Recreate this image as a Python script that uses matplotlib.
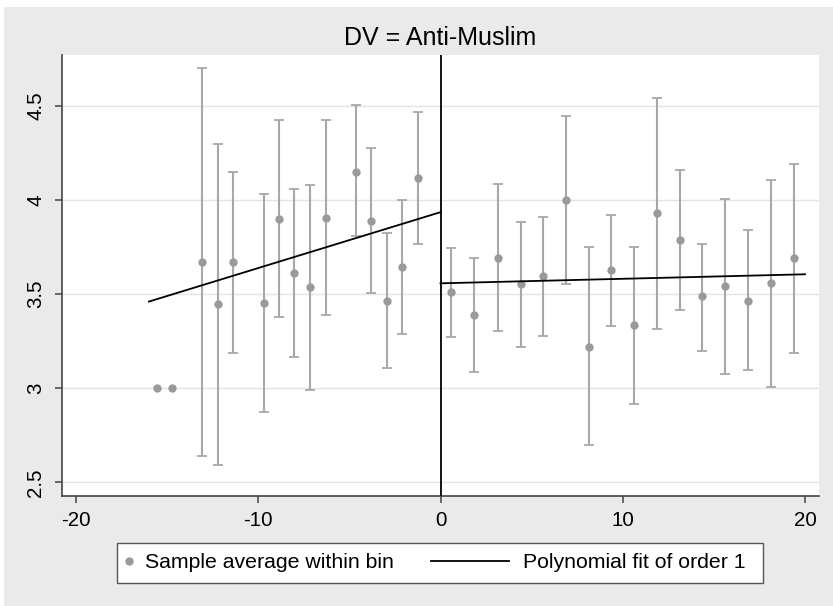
import numpy as np
import matplotlib
matplotlib.use("Agg")
import matplotlib.pyplot as plt
from matplotlib.patches import Rectangle
from matplotlib.lines import Line2D

plt.rcParams['font.family'] = ['Liberation Sans', 'DejaVu Sans']

nan = np.nan

# bin averages left of the cutoff (with 95% CI)
left_x = [-15.58, -14.76, -13.08, -12.20, -11.38, -9.69, -8.85, -8.05,
          -7.17, -6.31, -4.65, -3.81, -2.96, -2.12, -1.26]
left_mean = [3.00, 3.00, 3.669, 3.446, 3.669, 3.451, 3.899, 3.611,
             3.536, 3.906, 4.149, 3.890, 3.465, 3.643, 4.117]
left_lo = [nan, nan, 2.637, 2.593, 3.186, 2.874, 3.380, 3.163,
           2.989, 3.391, 3.809, 3.508, 3.106, 3.287, 3.768]
left_hi = [nan, nan, 4.699, 4.297, 4.149, 4.030, 4.423, 4.057,
           4.081, 4.423, 4.506, 4.274, 3.823, 3.998, 4.466]

# bin averages right of the cutoff
right_x = [0.60, 1.86, 3.13, 4.39, 5.63, 6.87, 8.13, 9.36,
           10.62, 11.87, 13.13, 14.37, 15.63, 16.87, 18.12, 19.38]
right_mean = [3.510, 3.389, 3.692, 3.552, 3.596, 4.000, 3.221, 3.628,
              3.333, 3.931, 3.788, 3.487, 3.543, 3.465, 3.557, 3.690]
right_lo = [3.274, 3.088, 3.301, 3.216, 3.278, 3.552, 2.699, 3.329,
            2.917, 3.313, 3.417, 3.200, 3.074, 3.094, 3.005, 3.186]
right_hi = [3.743, 3.694, 4.085, 3.883, 3.910, 4.448, 3.750, 3.922,
            3.752, 4.543, 4.158, 3.766, 4.007, 3.841, 4.104, 4.189]

# linear fits on each side
left_fit_x = [-16.0, 0.0]
left_fit_y = [3.46, 3.935]
right_fit_x = [0.0, 20.0]
right_fit_y = [3.557, 3.605]

xticks = [-20, -10, 0, 10, 20]
yticks = [2.5, 3, 3.5, 4, 4.5]

bg = '#eaeaea'
ci_col = '#a8a8a8'
dot_col = '#9a9a9a'
axis_col = '#444444'

fig = plt.figure(figsize=(8.33, 6.06), dpi=100, facecolor='white')
fig.patches.append(Rectangle((4/833, 0), 1, 599/606, transform=fig.transFigure,
                             facecolor=bg, edgecolor='none', zorder=-5))

ax = fig.add_axes([62/833, 110/606, 757/833, 441/606])
ax.set_facecolor('white')

for xs, m, lo, hi in [(left_x, left_mean, left_lo, left_hi),
                      (right_x, right_mean, right_lo, right_hi)]:
    xs = np.array(xs); m = np.array(m); lo = np.array(lo); hi = np.array(hi)
    ok = ~np.isnan(lo)
    ax.errorbar(xs[ok], m[ok], yerr=[m[ok] - lo[ok], hi[ok] - m[ok]], fmt='none',
                ecolor=ci_col, elinewidth=1.5, capsize=3.8, capthick=1.3, zorder=2)
    ax.plot(xs, m, 'o', color=dot_col, ms=6, mec='none', zorder=3)

ax.plot(left_fit_x, left_fit_y, color='black', lw=1.3, zorder=4)
ax.plot(right_fit_x, right_fit_y, color='black', lw=1.3, zorder=4)
ax.axvline(0, color='black', lw=1.3, zorder=4)

ax.set_xlim(-20.77, 20.77)
ax.set_ylim(2.427, 4.77)
ax.set_xticks(xticks)
ax.set_xticklabels([str(t) for t in xticks])
ax.set_yticks(yticks)
ax.set_yticklabels(['2.5', '3', '3.5', '4', '4.5'], rotation=90, va='center')
ax.yaxis.grid(True, color='#e4e4e4', lw=1.0)
ax.set_axisbelow(True)

for s in ['top', 'right']:
    ax.spines[s].set_visible(False)
for s in ['left', 'bottom']:
    ax.spines[s].set_color(axis_col)
    ax.spines[s].set_linewidth(1.2)
ax.tick_params(axis='both', colors=axis_col, labelcolor='black', length=5,
               width=1.1, labelsize=14.8)
ax.tick_params(axis='x', pad=6)
ax.tick_params(axis='y', pad=7)

ax.set_title('DV = Anti-Muslim', fontsize=18, pad=7)

# legend box with two keys
fig.patches.append(Rectangle((117/833, 23/606), 646/833, 40/606, transform=fig.transFigure,
                             facecolor='white', edgecolor='#555555', lw=1.0, zorder=1))
h1 = Line2D([], [], marker='o', ls='none', color=dot_col, ms=6, mec='none')
h2 = Line2D([], [], color='black', lw=1.3)
fig.legend([h1], ['Sample average within bin'], loc='center left',
           bbox_to_anchor=(124/833, 43/606), frameon=False, fontsize=15.3,
           handlelength=0.5, handletextpad=0.5, borderpad=0, borderaxespad=0)
fig.legend([h2], ['Polynomial fit of order 1'], loc='center left',
           bbox_to_anchor=(431/833, 43/606), frameon=False, fontsize=15.3,
           handlelength=3.67, handletextpad=0.66, borderpad=0, borderaxespad=0)

fig.savefig('out.png', dpi=100, facecolor=fig.get_facecolor())
